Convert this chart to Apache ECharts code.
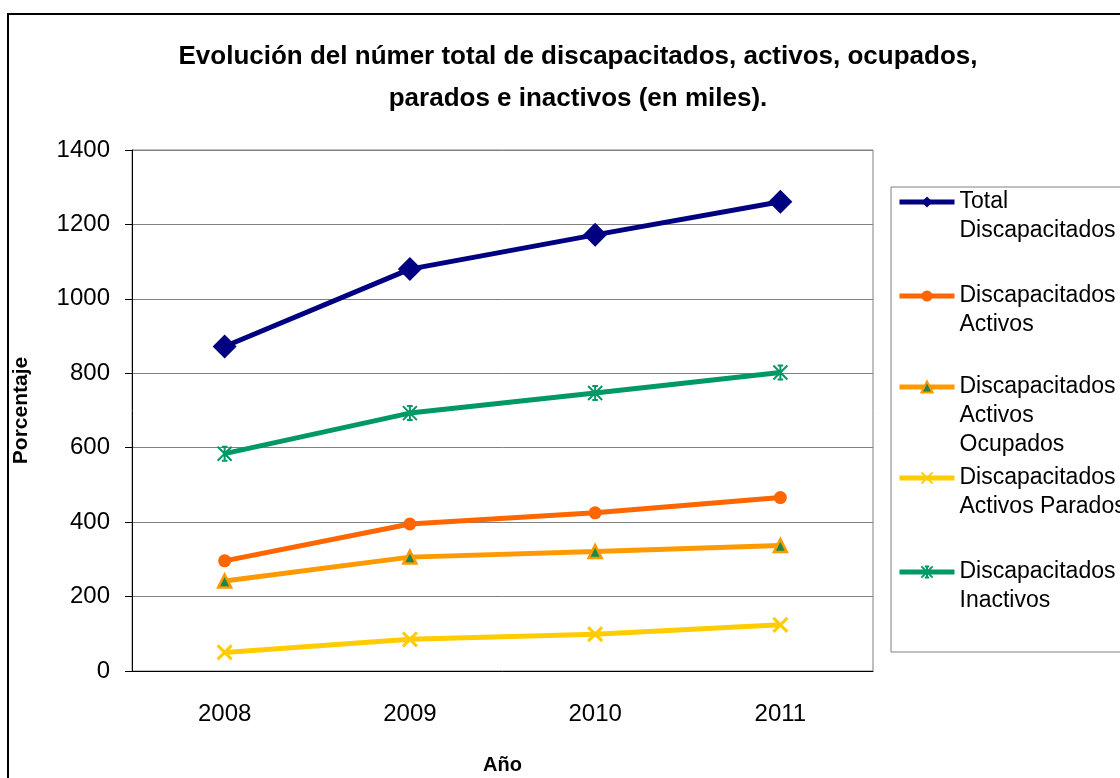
<!DOCTYPE html>
<html>
<head>
<meta charset="utf-8">
<script src="https://cdn.jsdelivr.net/npm/echarts@6/dist/echarts.min.js"></script>
<style>
  html, body { margin: 0; padding: 0; background: #fff; }
  #chart { width: 1120px; height: 778px; }
</style>
</head>
<body>
<div id="chart"></div>
<script>
var years = ["2008", "2009", "2010", "2011"];
var totalDisc = [872, 1080, 1172, 1261];
var activos = [296, 395, 425, 466];
var ocupados = [242, 306, 321, 337];
var parados = [50, 85, 99, 124];
var inactivos = [584, 693, 747, 802];
var yTicks = [0, 200, 400, 600, 800, 1000, 1200, 1400];

var names = [
  "Total\nDiscapacitados",
  "Discapacitados\nActivos",
  "Discapacitados\nActivos\nOcupados",
  "Discapacitados\nActivos Parados",
  "Discapacitados\nInactivos"
];
var iconY = [202, 296, 387, 478, 572];
var lh = 29;

var font = "'Liberation Sans', Arial, sans-serif";
var xMark = "path://M0,0L10,10M10,0L0,10";
var starMark = "path://M0,0L10,10M10,0L0,10M5,0L5,10M3,0L7,0M3,10L7,10";

var chart = echarts.init(document.getElementById("chart"));

// una leyenda por serie; se anteponen líneas vacías para que el icono
// quede a la altura de la primera línea del texto
var legends = names.map(function (n, i) {
  var k = n.split("\n").length;
  return {
    left: 897,
    top: iconY[i] - (2 * k - 1) * lh / 2,
    padding: 0,
    itemWidth: 55,
    itemHeight: 14,
    data: [n],
    formatter: function (name) {
      return new Array(k).join("\n") + name;
    },
    lineStyle: { width: 5 },
    textStyle: {
      fontFamily: font,
      fontSize: 23,
      color: "#000",
      lineHeight: lh
    }
  };
});

var option = {
  backgroundColor: "#fff",
  animation: false,
  title: {
    text: "Evolución del númer total de discapacitados, activos, ocupados,\nparados e inactivos (en miles).",
    left: 573,
    textAlign: "center",
    top: 31,
    textStyle: {
      fontFamily: font,
      fontSize: 26,
      fontWeight: "bold",
      color: "#000",
      lineHeight: 42
    }
  },
  graphic: [
    {
      type: "rect",
      shape: { x: 8, y: 14, width: 1200, height: 900 },
      style: { fill: null, stroke: "#000", lineWidth: 2 },
      silent: true
    },
    {
      type: "rect",
      shape: { x: 891, y: 187, width: 300, height: 465 },
      style: { fill: null, stroke: "#808080", lineWidth: 1 },
      silent: true
    }
  ],
  legend: legends,
  grid: {
    left: 132,
    top: 150,
    right: 247,
    bottom: 107,
    outerBoundsMode: "none",
    show: true,
    borderColor: "#808080",
    borderWidth: 1
  },
  xAxis: {
    type: "category",
    data: years,
    boundaryGap: true,
    name: "Año",
    nameLocation: "middle",
    nameGap: 84,
    nameTextStyle: { fontFamily: font, fontSize: 20, fontWeight: "bold", color: "#000" },
    axisLine: { lineStyle: { color: "#000", width: 1 } },
    axisTick: { length: 7, lineStyle: { color: "#000" } },
    axisLabel: { fontFamily: font, fontSize: 24, color: "#000", margin: 31 }
  },
  yAxis: {
    type: "value",
    min: 0,
    max: 1400,
    interval: 200,
    name: "Porcentaje",
    nameLocation: "middle",
    nameRotate: 90,
    nameGap: 100,
    nameTextStyle: { fontFamily: font, fontSize: 21, fontWeight: "bold", color: "#000" },
    axisLine: { show: true, lineStyle: { color: "#000", width: 1 } },
    axisTick: { show: true, length: 7, lineStyle: { color: "#000" } },
    axisLabel: {
      fontFamily: font, fontSize: 24, color: "#000", margin: 22,
      formatter: function (v) { return yTicks.indexOf(v) >= 0 ? String(v) : ""; }
    },
    splitLine: { lineStyle: { color: "#808080", width: 1 } }
  },
  series: [
    {
      name: names[0], type: "line", data: totalDisc,
      symbol: "diamond", symbolSize: 24,
      lineStyle: { color: "#000080", width: 5 },
      itemStyle: { color: "#000080" }
    },
    {
      name: names[1], type: "line", data: activos,
      symbol: "circle", symbolSize: 13,
      lineStyle: { color: "#FF6600", width: 5 },
      itemStyle: { color: "#FF6600" }
    },
    {
      name: names[2], type: "line", data: ocupados,
      symbol: "triangle", symbolSize: 13,
      lineStyle: { color: "#FF9900", width: 5 },
      itemStyle: { color: "#1a8a4a", borderColor: "#FF9900", borderWidth: 2.5 }
    },
    {
      name: names[3], type: "line", data: parados,
      symbol: xMark, symbolSize: 14,
      lineStyle: { color: "#FFCC00", width: 5 },
      itemStyle: { color: "#FFCC00", borderColor: "#FFCC00", borderWidth: 3 }
    },
    {
      name: names[4], type: "line", data: inactivos,
      symbol: starMark, symbolSize: 14,
      lineStyle: { color: "#009966", width: 5 },
      itemStyle: { color: "#009966", borderColor: "#009966", borderWidth: 2 }
    }
  ]
};

chart.setOption(option);
</script>
</body>
</html>
